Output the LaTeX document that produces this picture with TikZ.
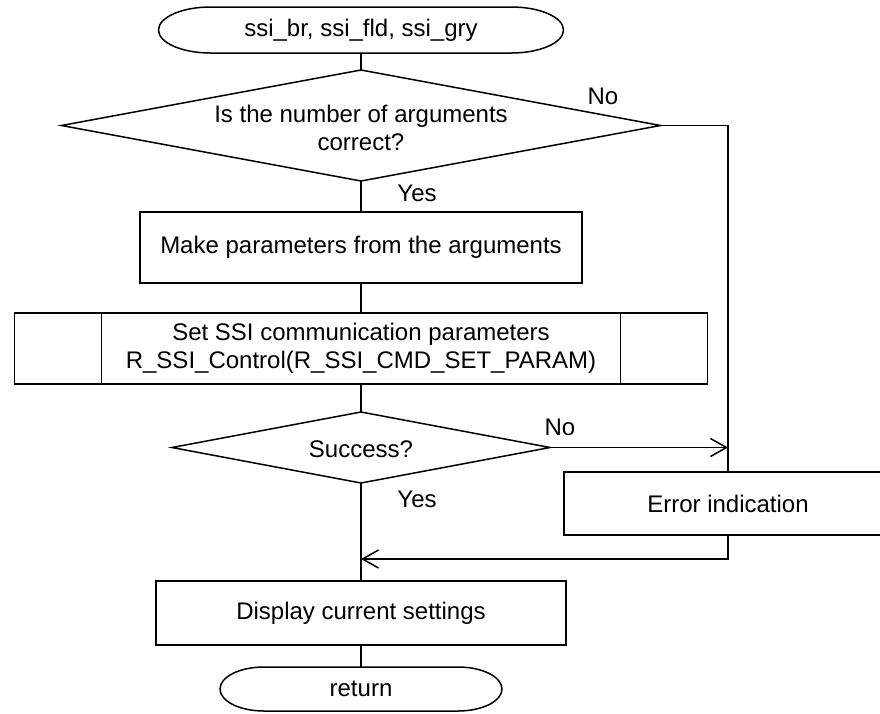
\documentclass[tikz,border=0pt]{standalone}
\usepackage{fontspec}
\setmainfont{Liberation Sans}
\usetikzlibrary{arrows.meta,shapes.geometric}
\begin{document}
\begin{tikzpicture}[x=1pt,y=-1pt,
  every node/.style={font=\fontsize{24}{28}\selectfont},
  ln/.style={line width=1.5pt, draw=black},
  arr/.style={ln, -{Straight Barb[length=16pt,width=18pt,line width=1.5pt]}},
  termbox/.style={draw=none, inner sep=0pt, outer sep=0pt, rectangle},
  procbox/.style={ln, rectangle, inner sep=0pt, outer sep=0pt, align=center},
  decbox/.style={ln, diamond, inner sep=0pt, outer sep=0pt},
  lbl/.style={inner sep=0pt}
]
\useasboundingbox (0,0) rectangle (880,713);
\fill[white] (0,0) rectangle (880,713);

% start terminal
\node[termbox, minimum width=405pt, minimum height=46pt] (start) at (361,30) {ssi\_br, ssi\_fld, ssi\_gry};
\draw[ln] ([xshift=52pt]start.north west) -- ([xshift=-52pt]start.north east)
  arc[start angle=90, end angle=-90, x radius=52pt, y radius=23pt]
  -- ([xshift=52pt]start.south west)
  arc[start angle=270, end angle=90, x radius=52pt, y radius=23pt] -- cycle;

% decision 1
\node[decbox, minimum width=599pt, minimum height=111pt] (d1) at (361,125.5) {};
\node[lbl, align=center] (d1t) at (361,128) {Is the number of arguments\\correct?};

% process 1
\node[procbox, minimum width=442pt, minimum height=71pt] (p1) at (361,247.5) {Make parameters from the arguments};

% predefined process
\node[procbox, minimum width=693pt, minimum height=71pt] (pre) at (361,348.5) {Set SSI communication parameters\\R\_SSI\_Control(R\_SSI\_CMD\_SET\_PARAM)};
\draw[ln] ([xshift=87pt]pre.north west) -- ([xshift=87pt]pre.south west);
\draw[ln] ([xshift=-87pt]pre.north east) -- ([xshift=-87pt]pre.south east);

% decision 2
\node[decbox, minimum width=378pt, minimum height=71pt] (d2) at (361,447.5) {};
\node[lbl] (d2t) at (361,449) {Success?};

% error box
\node[procbox, minimum width=328pt, minimum height=63pt] (err) at (728,503.5) {Error indication};

% display box
\node[procbox, minimum width=410pt, minimum height=64pt] (disp) at (361,613) {Display current settings};

% return terminal
\node[termbox, minimum width=282pt, minimum height=44pt] (ret) at (361,689) {return};
\draw[ln] ([xshift=44pt]ret.north west) -- ([xshift=-44pt]ret.north east)
  arc[start angle=90, end angle=-90, x radius=44pt, y radius=22pt]
  -- ([xshift=44pt]ret.south west)
  arc[start angle=270, end angle=90, x radius=44pt, y radius=22pt] -- cycle;

\coordinate (mrg) at (361,559);

% connectors
\draw[ln] (start.south) -- (d1.north);
\draw[ln] (d1.south) -- (p1.north);
\draw[ln] (p1.south) -- (pre.north);
\draw[ln] (pre.south) -- (d2.north);
\draw[ln] (d2.south) -- (disp.north);
\draw[ln] (disp.south) -- (ret.north);
\draw[ln] (d1.east) -- (d1.east -| err.north) -- (err.north);
\draw[arr] (d2.east) -- (d2.east -| err.north);
\draw[arr] (err.south) -- (err.south |- mrg) -- (mrg);

% labels
\node[lbl] (no1) at (603,96) {No};
\node[lbl] (yes1) at (417,193) {Yes};
\node[lbl] (no2) at (560,427) {No};
\node[lbl] (yes2) at (417,499) {Yes};
\end{tikzpicture}
\end{document}
